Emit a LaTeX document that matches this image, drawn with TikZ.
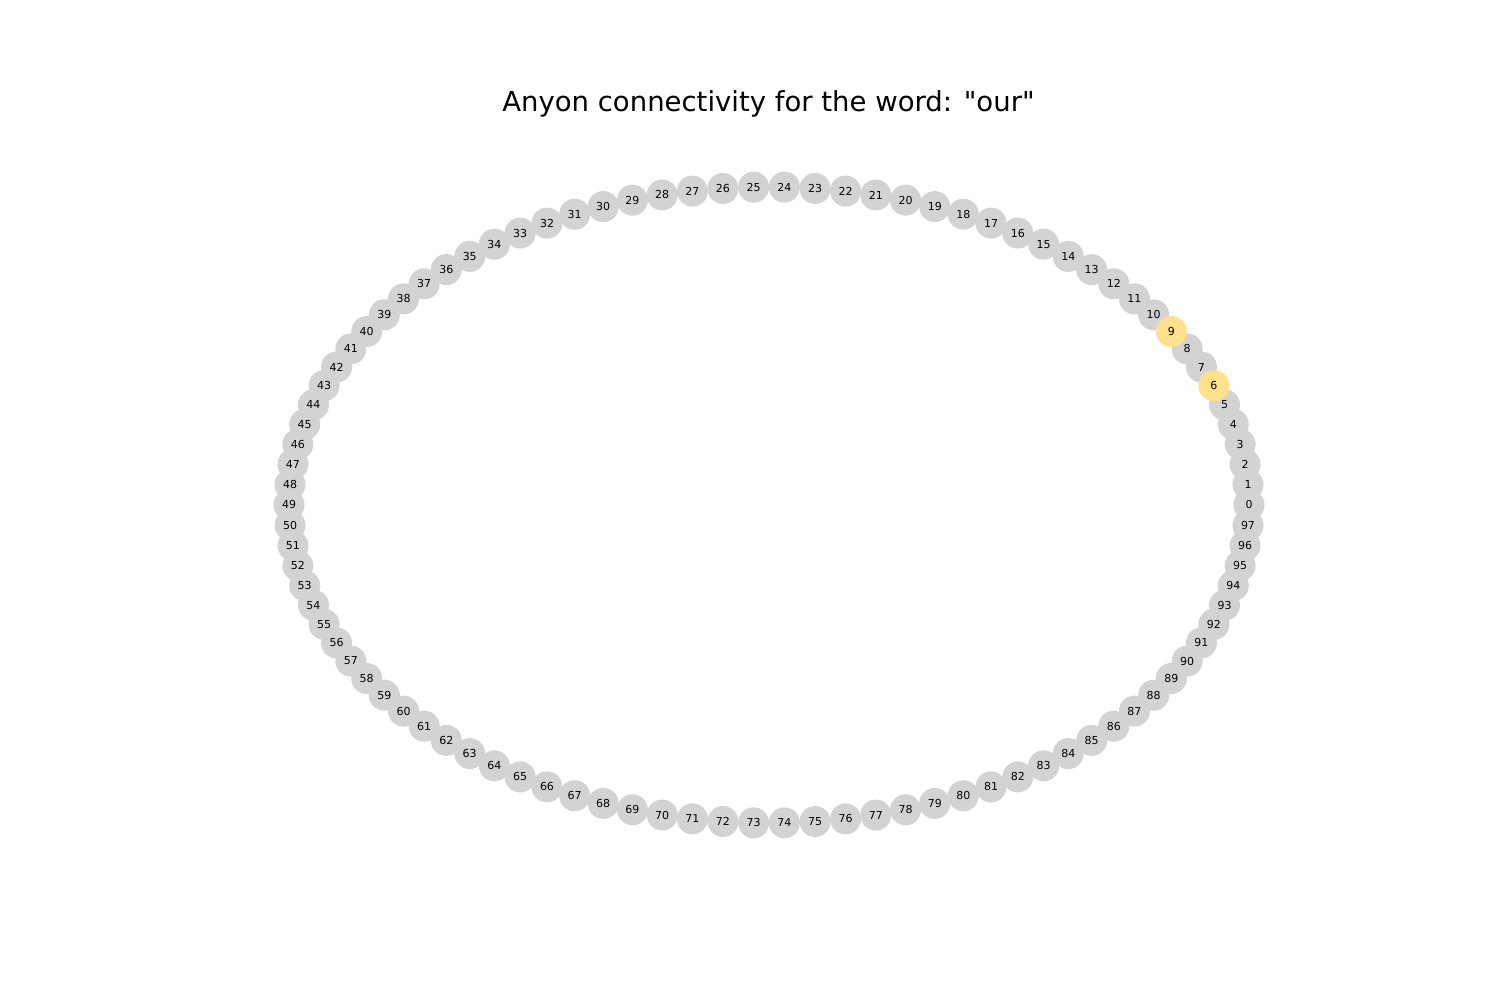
\documentclass[tikz,border=0pt]{standalone}
\usepackage{fontspec}
\setmainfont{DejaVu Sans}[Ligatures=TeXOff]
\usetikzlibrary{positioning}
\definecolor{anyongray}{RGB}{211,211,211}
\definecolor{anyonhot}{RGB}{255,224,140}
\tikzstyle{anyon}=[circle,fill=anyongray,inner sep=0pt,minimum size=31pt,font=\fontsize{11}{11}\selectfont]
\tikzstyle{hot}=[anyon,fill=anyonhot]
\begin{document}
\begin{tikzpicture}[x=1pt,y=1pt]
\useasboundingbox (0,0) rectangle (1500,1000);
\node[font=\fontsize{27.5}{30}\selectfont] (title) at (768.5,896) {Anyon connectivity for the word: "our"};
\foreach \i in {0,...,97}{
  \pgfmathsetmacro\ang{360/98*\i}
  \ifnum\i=6 \else\ifnum\i=9 \else
  \node[anyon] (n\i) at ({769+480*cos(\ang)},{495+318*sin(\ang)}) {\i};
  \fi\fi
}
% the letters of the word
\foreach \i in {6,9}{
  \pgfmathsetmacro\ang{360/98*\i}
  \node[hot] (n\i) at ({769+480*cos(\ang)},{495+318*sin(\ang)}) {\i};
}
\end{tikzpicture}
\end{document}
